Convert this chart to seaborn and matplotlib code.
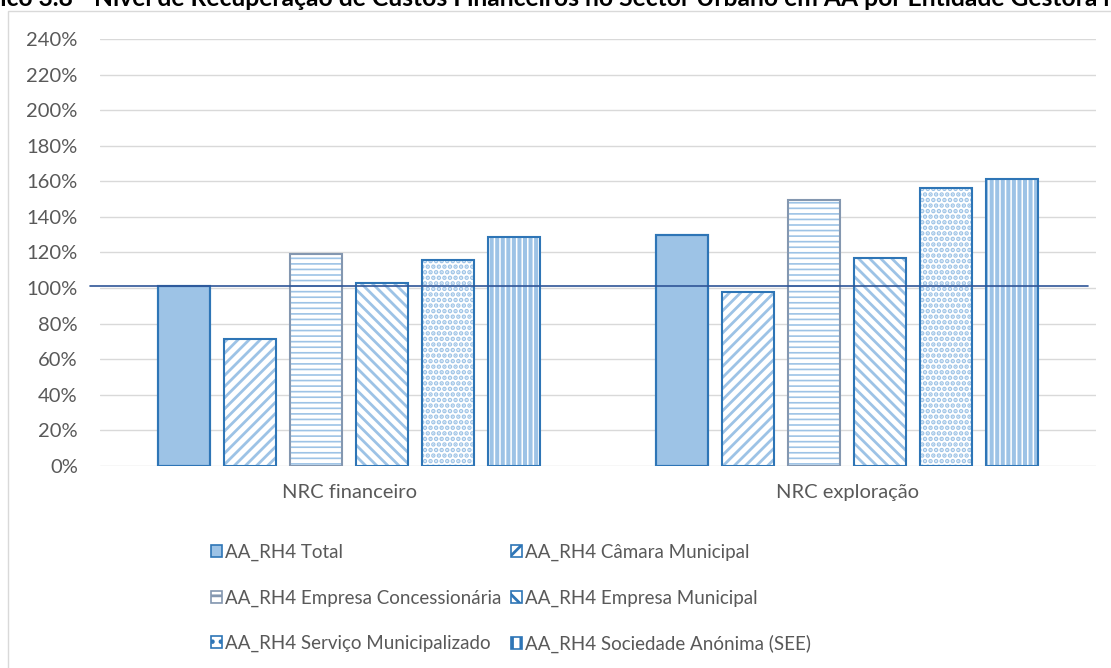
import matplotlib
matplotlib.use("Agg")
import matplotlib.pyplot as plt
import seaborn as sns
import pandas as pd
import numpy as np
from matplotlib.patches import Patch, Rectangle
from matplotlib.ticker import MultipleLocator, FuncFormatter

# ---- data -------------------------------------------------------------
indicadores = ["NRC financeiro", "NRC exploração"]
entidades = [
    "AA_RH4 Total",
    "AA_RH4 Câmara Municipal",
    "AA_RH4 Empresa Concessionária",
    "AA_RH4 Empresa Municipal",
    "AA_RH4 Serviço Municipalizado",
    "AA_RH4 Sociedade Anónima (SEE)",
]
nrc_financeiro = [1.012, 0.712, 1.192, 1.027, 1.158, 1.289]
nrc_exploracao = [1.298, 0.980, 1.495, 1.169, 1.564, 1.615]
nivel_referencia = 1.012
titulo = ("Gráfico 3.8 - Nível de Recuperação de Custos Financeiros no Sector "
          "Urbano em AA por Entidade Gestora na RH4")

df = pd.DataFrame({
    "indicador": np.repeat(indicadores, len(entidades)),
    "entidade": entidades * len(indicadores),
    "valor": nrc_financeiro + nrc_exploracao,
})

# ---- styles -----------------------------------------------------------
LIGHT = "#9DC3E6"
DARK = "#2E75B6"
fills = [LIGHT, "white", "white", "white", "white", "white"]
edges = [DARK, DARK, "#8497B0", DARK, DARK, DARK]
hatches = [None, "///", "---", "\\\\\\", "...", "|||"]
hatch_lw = [1.0, 2.0, 1.2, 2.0, 2.3, 2.9]

sns.set_theme(style="white")
plt.rcParams["font.family"] = ["Lato", "DejaVu Sans"]
plt.rcParams["hatch.linewidth"] = 2.0
TXT = "#595959"
FS = 14.5
LFS = 13.5

W, H = 1111, 668
fig = plt.figure(figsize=(W / 100, H / 100), dpi=100)
ax = fig.add_axes([100 / W, 202 / H, 996 / W, 427 / H])

sns.barplot(data=df, x="indicador", y="valor", hue="entidade",
            order=indicadores, hue_order=entidades,
            palette=dict(zip(entidades, fills)), saturation=1,
            width=0.795, gap=0.21, errorbar=None, legend=False, ax=ax)


def style_patch(p, i, lw_edge):
    p.set_facecolor(fills[i])
    if hatches[i]:
        p.set_edgecolor(LIGHT)
        p.set_linewidth(0)
        p.set_hatch(hatches[i])
        if hasattr(p, "set_hatchcolor"):
            p.set_hatchcolor(LIGHT)
        if hasattr(p, "set_hatch_linewidth"):
            p.set_hatch_linewidth(hatch_lw[i])
    else:
        p.set_edgecolor(edges[i])
        p.set_linewidth(lw_edge)


for i, cont in enumerate(ax.containers):
    for bar in cont:
        style_patch(bar, i, 1.5)
        ax.add_patch(Rectangle(bar.get_xy(), bar.get_width(), bar.get_height(),
                               fill=False, edgecolor=edges[i], lw=1.5,
                               zorder=bar.get_zorder() + 0.1))

# reference line
ax.axhline(nivel_referencia, xmin=-0.01, xmax=0.992, color="#2F5597",
           lw=1.2, zorder=5, clip_on=False)

ax.set_xlim(-0.5, 1.5)
ax.set_ylim(0, 2.4)
ax.yaxis.set_major_locator(MultipleLocator(0.2))
ax.yaxis.set_major_formatter(FuncFormatter(lambda v, _: f"{v * 100:.0f}%"))
ax.yaxis.grid(True, color="#D9D9D9", lw=1.0)
ax.set_axisbelow(True)
for s in ax.spines.values():
    s.set_visible(False)
ax.set_xlabel("")
ax.set_ylabel("")
ax.tick_params(axis="both", length=0, labelsize=FS, labelcolor=TXT)
ax.tick_params(axis="y", pad=16)
ax.tick_params(axis="x", pad=13)

# legend (row-major ordering over two columns)
handles = []
for i in range(len(entidades)):
    h = Patch(facecolor=fills[i], edgecolor=edges[i], lw=1.2, label=entidades[i])
    if hatches[i]:
        h.set_hatch(hatches[i][:2])
        if hasattr(h, "set_hatchcolor"):
            h.set_hatchcolor(LIGHT)
    handles.append(h)
order = [0, 2, 4, 1, 3, 5]
fig.legend([handles[k] for k in order], [entidades[k] for k in order],
           ncol=2, loc="upper left", bbox_to_anchor=(211 / W, 1 - 544 / H),
           frameon=False, fontsize=LFS, labelcolor=TXT, borderpad=0,
           borderaxespad=0, handlelength=0.6, handleheight=0.6,
           handletextpad=0.15, columnspacing=0.5, labelspacing=1.5)

# outer chart frame
fig.add_artist(Rectangle((8 / W, -0.2), 1.2, (H - 11) / H + 0.2,
                         transform=fig.transFigure, fill=False,
                         edgecolor="#D9D9D9", lw=1.0, clip_on=False))

# title, partly above the top edge
renderer = fig.canvas.get_renderer()
probe = fig.text(0, 0, "ico 3.8 - Nível de Recuperação de Custos Financeiros no "
                 "Sector Urbano em AA por Entidade Gestora ", fontsize=10,
                 fontweight="bold")
w10 = probe.get_window_extent(renderer).width
probe.remove()
tfs = 10 * 1106 / w10
probe = fig.text(0, 0, "Gráf", fontsize=tfs, fontweight="bold")
pre = probe.get_window_extent(renderer).width
probe.remove()
fig.text(-pre / W, 1 - 6.5 / H, titulo, fontsize=tfs, fontweight="bold",
         color="black", ha="left", va="baseline")

fig.savefig("out.png", dpi=100)
